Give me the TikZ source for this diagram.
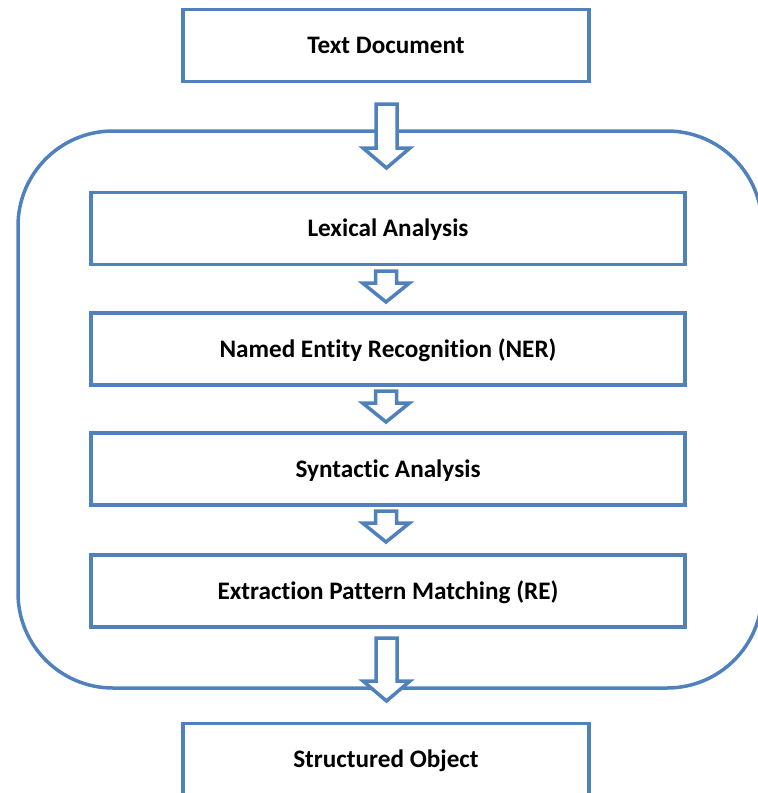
\documentclass[tikz,border=0pt]{standalone}
\usepackage{fontspec}
\setmainfont[Ligatures=CommonOff]{Carlito}
\usetikzlibrary{calc}
\definecolor{boxblue}{HTML}{4F81BD}
\tikzset{
  stagebox/.style={draw=boxblue, line width=3.5pt, fill=white, inner sep=0pt,
    minimum height=72pt, text depth=1pt, font=\fontsize{25.2}{29}\selectfont\bfseries},
  outerbox/.style={stagebox, minimum width=406pt},
  innerbox/.style={stagebox, minimum width=594pt},
  container/.style={draw=boxblue, line width=3.5pt, rounded corners=95pt},
  blockarrow/.style={draw=boxblue, line width=3.5pt, fill=white, line join=miter}
}
% block arrow: centre x, shaft top, head base, tip (y grows downward)
\newcommand{\flowarrow}[4]{%
  \draw[blockarrow] (#1-10.5,#2) -- (#1+10.5,#2) -- (#1+10.5,#3) -- (#1+23.5,#3)
    -- (#1,#4) -- (#1-23.5,#3) -- (#1-10.5,#3) -- cycle;}
\begin{document}
\begin{tikzpicture}[x=1pt, y=-1pt]
  \useasboundingbox (0,0) rectangle (758,793);

  % processing pipeline frame
  \draw[container] (18,131) rectangle (762,688);

  \node[outerbox] (doc) at (386,45.5) {Text Document};
  \node[innerbox] (lex) at (388,228.5) {Lexical Analysis};
  \node[innerbox] (ner) at (388,349) {Named Entity Recognition (NER)};
  \node[innerbox] (syn) at (388,469) {Syntactic Analysis};
  \node[innerbox] (ext) at (388,591) {Extraction Pattern Matching (RE)};
  \node[outerbox] (obj) at (386,759.5) {Structured Object};

  % arrows between stages
  \flowarrow{386.5}{104}{148}{168}
  \flowarrow{386}{271}{283}{302}
  \flowarrow{386}{391}{403}{422}
  \flowarrow{386}{511}{523}{542}
  \flowarrow{386.5}{638}{681}{701}
\end{tikzpicture}
\end{document}
